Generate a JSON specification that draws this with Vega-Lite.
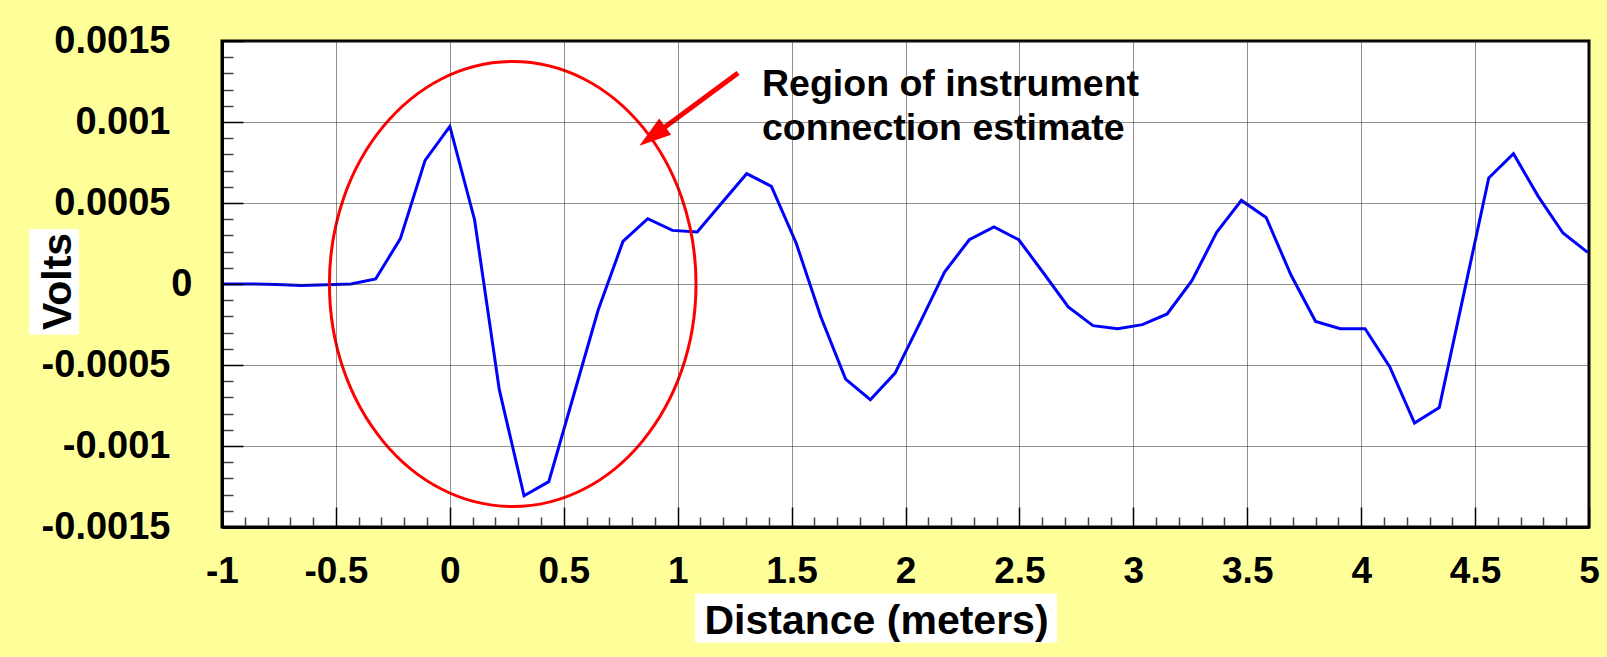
{
  "$schema": "https://vega.github.io/schema/vega-lite/v6.json",
  "autosize": {"type": "none"},
  "width": 1367,
  "height": 486,
  "padding": {"left": 222, "top": 41, "right": 18, "bottom": 130},
  "background": "#FFFF99",
  "config": {
    "view": {"fill": "white", "stroke": "black", "strokeWidth": 3},
    "font": "Liberation Sans"
  },
  "datasets": {
    "signal": [
      {"x": -1.0857, "y": 0},
      {"x": -0.9771, "y": 0},
      {"x": -0.8686, "y": 0},
      {"x": -0.76, "y": -0.000003},
      {"x": -0.6514, "y": -0.00001},
      {"x": -0.5429, "y": -0.000004},
      {"x": -0.4343, "y": 0},
      {"x": -0.3257, "y": 0.000031},
      {"x": -0.2171, "y": 0.00028},
      {"x": -0.1086, "y": 0.000763},
      {"x": 0, "y": 0.000973},
      {"x": 0.1086, "y": 0.000397},
      {"x": 0.2171, "y": -0.000652},
      {"x": 0.3257, "y": -0.001307},
      {"x": 0.4343, "y": -0.00122},
      {"x": 0.5429, "y": -0.00069},
      {"x": 0.6514, "y": -0.000159},
      {"x": 0.76, "y": 0.000263},
      {"x": 0.8686, "y": 0.000403},
      {"x": 0.9771, "y": 0.000331},
      {"x": 1.0857, "y": 0.000321},
      {"x": 1.1943, "y": 0.000502},
      {"x": 1.3028, "y": 0.000681},
      {"x": 1.4114, "y": 0.000603},
      {"x": 1.52, "y": 0.000253},
      {"x": 1.6286, "y": -0.000204},
      {"x": 1.7371, "y": -0.000587},
      {"x": 1.8457, "y": -0.000714},
      {"x": 1.9543, "y": -0.00055},
      {"x": 2.0628, "y": -0.000241},
      {"x": 2.1714, "y": 0.000074},
      {"x": 2.28, "y": 0.000273},
      {"x": 2.3885, "y": 0.000352},
      {"x": 2.4971, "y": 0.000273},
      {"x": 2.6057, "y": 0.000068},
      {"x": 2.7143, "y": -0.000142},
      {"x": 2.8228, "y": -0.000257},
      {"x": 2.9314, "y": -0.000276},
      {"x": 3.04, "y": -0.000251},
      {"x": 3.1485, "y": -0.000185},
      {"x": 3.2571, "y": 0.00002},
      {"x": 3.3657, "y": 0.000319},
      {"x": 3.4742, "y": 0.000516},
      {"x": 3.5828, "y": 0.000411},
      {"x": 3.6914, "y": 0.000057},
      {"x": 3.8, "y": -0.000231},
      {"x": 3.9085, "y": -0.000276},
      {"x": 4.0171, "y": -0.000276},
      {"x": 4.1257, "y": -0.000512},
      {"x": 4.2342, "y": -0.000858},
      {"x": 4.3428, "y": -0.000762},
      {"x": 4.4514, "y": -0.000055},
      {"x": 4.56, "y": 0.000654},
      {"x": 4.6685, "y": 0.000804},
      {"x": 4.7771, "y": 0.000541},
      {"x": 4.8857, "y": 0.000315},
      {"x": 4.9942, "y": 0.000195}
    ],
    "boxes": [
      {"x": 1.2975, "x2": 3.4395, "y": 0.001446, "y2": 0.000742},
      {"x": -1.8458, "x2": -1.6277, "y": 0.00034, "y2": -0.000313},
      {"x": 1.0761, "x2": 2.665, "y": -0.0019117, "y2": -0.0022142}
    ],
    "ellipse": [{"x": 0.276, "y": 0}],
    "arrow": [{"x": 1.265, "y": 0.001302, "x2": 0.888, "y2": 0.000911}],
    "head": [{"x": 0.832, "y": 0.000854}],
    "note": [
      {"x": 1.37, "y": 0.001158, "text": "Region of instrument"},
      {"x": 1.37, "y": 0.000891, "text": "connection estimate"}
    ]
  },
  "layer": [
    {
      "data": {"name": "boxes"},
      "mark": {"type": "rect", "color": "white", "clip": false},
      "encoding": {
        "x": {"field": "x", "type": "quantitative"},
        "x2": {"field": "x2"},
        "y": {"field": "y", "type": "quantitative"},
        "y2": {"field": "y2"}
      }
    },
    {
      "data": {"name": "signal"},
      "mark": {"type": "line", "color": "#0000FF", "strokeWidth": 3, "clip": true},
      "encoding": {
        "x": {
          "field": "x",
          "type": "quantitative",
          "scale": {"domain": [-1, 5], "nice": false, "zero": false},
          "axis": {
            "title": "Distance (meters)",
            "tickCount": 1000,
            "values": [-1, -0.9, -0.8, -0.7, -0.6, -0.5, -0.4, -0.3, -0.2, -0.1, 0, 0.1, 0.2, 0.3, 0.4, 0.5, 0.6, 0.7, 0.8, 0.9, 1, 1.1, 1.2, 1.3, 1.4, 1.5, 1.6, 1.7, 1.8, 1.9, 2, 2.1, 2.2, 2.3, 2.4, 2.5, 2.6, 2.7, 2.8, 2.9, 3, 3.1, 3.2, 3.3, 3.4, 3.5, 3.6, 3.7, 3.8, 3.9, 4, 4.1, 4.2, 4.3, 4.4, 4.5, 4.6, 4.7, 4.8, 4.9, 5],
            "labelExpr": "abs(datum.value*2 - round(datum.value*2)) < 1e-6 ? '' + datum.value : ''",
            "labelOverlap": false,
            "labelFlush": false,
            "labelFont": "Liberation Sans",
            "labelFontWeight": "bold",
            "labelFontSize": 37,
            "labelColor": "black",
            "labelPadding": 46,
            "tickSize": {"condition": {"test": "abs(datum.value*2 - round(datum.value*2)) < 1e-6", "value": -20}, "value": -10},
            "tickColor": {"condition": {"test": "abs(datum.value*2 - round(datum.value*2)) < 1e-6", "value": "black"}, "value": "#444444"},
            "tickWidth": 1.5,
            "grid": true,
            "gridOpacity": {"condition": {"test": "abs(datum.value*2 - round(datum.value*2)) < 1e-6", "value": 1}, "value": 0},
            "gridColor": "#222222",
            "gridDash": [1, 1],
            "gridWidth": 1,
            "domainColor": "black",
            "domainWidth": 3,
            "titleFont": "Liberation Sans",
            "titleFontWeight": "bold",
            "titleFontSize": 41,
            "titleColor": "black",
            "titleX": 654,
            "titleY": 106,
            "titleAlign": "center",
            "titleBaseline": "alphabetic",
            "zindex": 1
          }
        },
        "y": {
          "field": "y",
          "type": "quantitative",
          "scale": {"domain": [-0.0015, 0.0015], "nice": false, "zero": false},
          "axis": {
            "title": "Volts",
            "tickCount": 1000,
            "values": [-0.0015, -0.0014, -0.0013, -0.0012, -0.0011, -0.001, -0.0009, -0.0008, -0.0007, -0.0006, -0.0005, -0.0004, -0.0003, -0.0002, -0.0001, 0, 0.0001, 0.0002, 0.0003, 0.0004, 0.0005, 0.0006, 0.0007, 0.0008, 0.0009, 0.001, 0.0011, 0.0012, 0.0013, 0.0014, 0.0015],
            "labelExpr": "abs(datum.value*2000 - round(datum.value*2000)) < 1e-6 ? '' + datum.value : ''",
            "labelOverlap": false,
            "labelFlush": false,
            "labelFont": "Liberation Sans",
            "labelFontWeight": "bold",
            "labelFontSize": 38,
            "labelColor": "black",
            "labelPadding": {"condition": {"test": "datum.value == 0", "value": 51}, "value": 73},
            "tickSize": {"condition": {"test": "abs(datum.value*2000 - round(datum.value*2000)) < 1e-6", "value": -21}, "value": -11},
            "tickColor": {"condition": {"test": "abs(datum.value*2000 - round(datum.value*2000)) < 1e-6", "value": "black"}, "value": "#444444"},
            "tickWidth": 1.5,
            "grid": true,
            "gridOpacity": {"condition": {"test": "abs(datum.value*2000 - round(datum.value*2000)) < 1e-6", "value": 1}, "value": 0},
            "gridColor": "#222222",
            "gridDash": [1, 1],
            "gridWidth": 1,
            "domainColor": "black",
            "domainWidth": 3,
            "titleFont": "Liberation Sans",
            "titleFontWeight": "bold",
            "titleFontSize": 41,
            "titleColor": "black",
            "titleAngle": -90,
            "titleX": -152,
            "titleY": 240,
            "titleAlign": "center",
            "titleBaseline": "alphabetic",
            "zindex": 1
          }
        }
      }
    },
    {
      "data": {"name": "ellipse"},
      "mark": {
        "type": "point",
        "shape": "M1,0C1,0.6704,0.5523,1.2139,0,1.2139C-0.5523,1.2139,-1,0.6704,-1,0C-1,-0.6704,-0.5523,-1.2139,0,-1.2139C0.5523,-1.2139,1,-0.6704,1,0Z",
        "size": 134396,
        "filled": false,
        "color": "#FF0000",
        "strokeWidth": 3,
        "opacity": 1
      },
      "encoding": {
        "x": {"field": "x", "type": "quantitative"},
        "y": {"field": "y", "type": "quantitative"}
      }
    },
    {
      "data": {"name": "arrow"},
      "mark": {"type": "rule", "color": "#FF0000", "strokeWidth": 5},
      "encoding": {
        "x": {"field": "x", "type": "quantitative"},
        "y": {"field": "y", "type": "quantitative"},
        "x2": {"field": "x2"},
        "y2": {"field": "y2"}
      }
    },
    {
      "data": {"name": "head"},
      "mark": {
        "type": "point",
        "shape": "M0,0L0.625,2L-0.625,2Z",
        "size": 1024,
        "angle": 233.6,
        "filled": true,
        "color": "#FF0000",
        "strokeWidth": 0,
        "opacity": 1
      },
      "encoding": {
        "x": {"field": "x", "type": "quantitative"},
        "y": {"field": "y", "type": "quantitative"}
      }
    },
    {
      "data": {"name": "note"},
      "mark": {
        "type": "text",
        "align": "left",
        "baseline": "alphabetic",
        "font": "Liberation Sans",
        "fontWeight": "bold",
        "fontSize": 37.5,
        "color": "black"
      },
      "encoding": {
        "x": {"field": "x", "type": "quantitative"},
        "y": {"field": "y", "type": "quantitative"},
        "text": {"field": "text", "type": "nominal"}
      }
    }
  ]
}
